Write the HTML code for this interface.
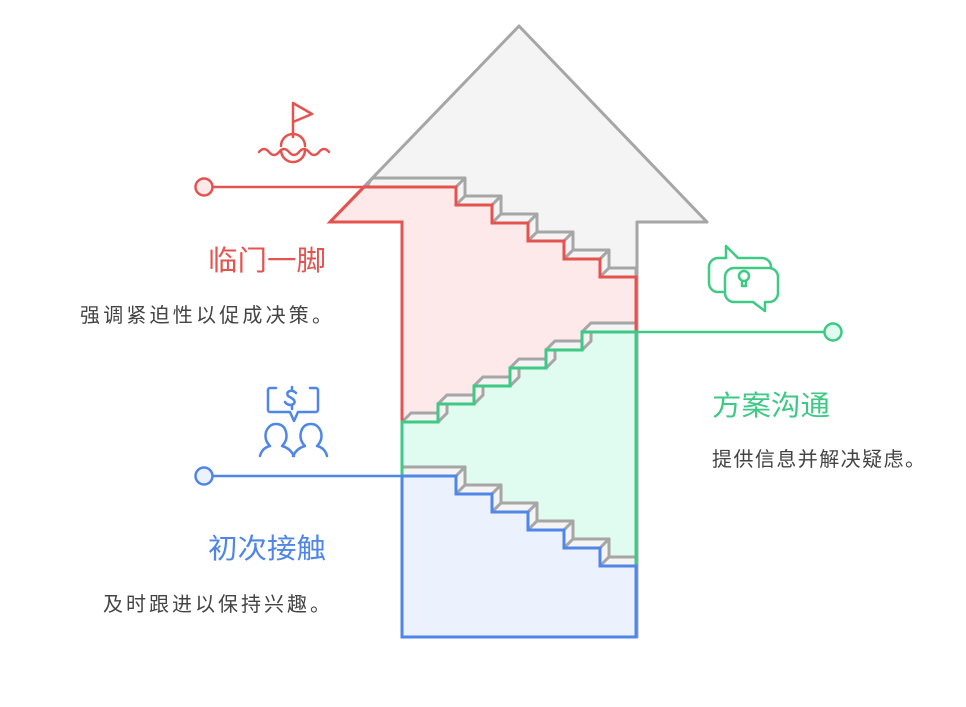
<!DOCTYPE html>
<html><head><meta charset="utf-8"><style>
body{margin:0;background:#fff;width:966px;height:702px;overflow:hidden}
svg text{font-family:"Liberation Sans","Noto Sans CJK SC",sans-serif}
</style></head><body>
<svg width="966" height="702" viewBox="0 0 966 702" xmlns="http://www.w3.org/2000/svg">
<polygon points="519,26 707,222 637,222 637,637 402,637 402,222 330,222" fill="#f4f4f4" stroke="#a6a6a6" stroke-width="3" stroke-linejoin="round"/>
<polygon points="330,222 364,187 456,187 456,205 492,205 492,223 528,223 528,241 564,241 564,259 600,259 600,277 636,277 636,332 582,332 582,350 546,350 546,368 510,368 510,386 474,386 474,404 438,404 438,422 402,422 402,222" fill="#fde9e9" stroke="#e5534f" stroke-width="3"/>
<polygon points="402,422 438,422 438,404 474,404 474,386 510,386 510,368 546,368 546,350 582,350 582,332 636,332 636,566 600,566 600,548 564,548 564,530 528,530 528,512 492,512 492,494 456,494 456,476 402,476" fill="#e0fbef" stroke="#3ec985" stroke-width="3"/>
<polygon points="402,476 456,476 456,494 492,494 492,512 528,512 528,530 564,530 564,548 600,548 600,566 636,566 636,637 402,637" fill="#ebf2fd" stroke="#4f86e8" stroke-width="3"/>
<g fill="#f4f4f4" stroke="#a6a6a6" stroke-width="3" stroke-linejoin="round">
<polygon points="370,181 373,178 465,178 456,187 367,187"/>
<polygon points="456,187 465,178 465,196 456,205"/>
<polygon points="456,205 465,196 501,196 492,205"/>
<polygon points="492,205 501,196 501,214 492,223"/>
<polygon points="492,223 501,214 537,214 528,223"/>
<polygon points="528,223 537,214 537,232 528,241"/>
<polygon points="528,241 537,232 573,232 564,241"/>
<polygon points="564,241 573,232 573,250 564,259"/>
<polygon points="564,259 573,250 609,250 600,259"/>
<polygon points="600,259 609,250 609,268 600,277"/>
<polygon points="600,277 609,268 636,268 636,277"/>
<polygon points="402,422 411,413 447,413 438,422"/>
<polygon points="438,422 447,413 447,395 438,404"/>
<polygon points="438,404 447,395 483,395 474,404"/>
<polygon points="474,404 483,395 483,377 474,386"/>
<polygon points="474,386 483,377 519,377 510,386"/>
<polygon points="510,386 519,377 519,359 510,368"/>
<polygon points="510,368 519,359 555,359 546,368"/>
<polygon points="546,368 555,359 555,341 546,350"/>
<polygon points="546,350 555,341 591,341 582,350"/>
<polygon points="582,350 591,341 591,323 582,332"/>
<polygon points="582,332 591,323 636,323 636,332"/>
<polygon points="402,476 402,467 465,467 456,476"/>
<polygon points="456,476 465,467 465,485 456,494"/>
<polygon points="456,494 465,485 501,485 492,494"/>
<polygon points="492,494 501,485 501,503 492,512"/>
<polygon points="492,512 501,503 537,503 528,512"/>
<polygon points="528,512 537,503 537,521 528,530"/>
<polygon points="528,530 537,521 573,521 564,530"/>
<polygon points="564,530 573,521 573,539 564,548"/>
<polygon points="564,548 573,539 609,539 600,548"/>
<polygon points="600,548 609,539 609,557 600,566"/>
<polygon points="600,566 609,557 636,557 636,566"/>
</g>
<polyline points="330,222 364,187 456,187 456,205 492,205 492,223 528,223 528,241 564,241 564,259 600,259 600,277 636,277 636,332" fill="none" stroke="#e5534f" stroke-width="3"/>
<polyline points="402,222 402,422" fill="none" stroke="#e5534f" stroke-width="3"/>
<polyline points="330,222 402,222" fill="none" stroke="#e5534f" stroke-width="3"/>
<polyline points="402,476 402,422 438,422 438,404 474,404 474,386 510,386 510,368 546,368 546,350 582,350 582,332 636,332 636,566" fill="none" stroke="#3ec985" stroke-width="3"/>
<polyline points="402,476 456,476 456,494 492,494 492,512 528,512 528,530 564,530 564,548 600,548 600,566 636,566 636,637 402,637 402,476" fill="none" stroke="#4f86e8" stroke-width="3"/>
<line x1="212" y1="187" x2="456" y2="187" stroke="#e5534f" stroke-width="2.5"/>
<circle cx="204" cy="187" r="8.5" fill="#fde9e9" stroke="#e5534f" stroke-width="2.5"/>
<line x1="636" y1="332" x2="825" y2="332" stroke="#3ec985" stroke-width="2.5"/>
<circle cx="833" cy="332" r="8.5" fill="#e0fbef" stroke="#3ec985" stroke-width="2.5"/>
<line x1="212" y1="476" x2="402" y2="476" stroke="#4f86e8" stroke-width="2.5"/>
<circle cx="204" cy="476" r="8.5" fill="#ebf2fd" stroke="#4f86e8" stroke-width="2.5"/>
<g fill="none" stroke="#e5534f" stroke-width="2.5" stroke-linecap="round" stroke-linejoin="round">
<polyline points="293,137 293,103 312,114 293,122"/>
<path d="M281,146 a12,12 0 0 1 24,0"/>
<path d="M281,150 a12,12 0 0 0 24,0"/>
<path d="M259,152 q5,-6 10,0 q5,6 10,0 q5,-6 10,0 q5,6 10,0 q5,-6 10,0 q5,6 10,0 q5,-6 10,0"/>
</g>
<g fill="none" stroke="#3ec985" stroke-width="2.5" stroke-linecap="round" stroke-linejoin="round">
<path d="M723,292 h-5 a9,9 0 0 1 -9,-9 v-16 a9,9 0 0 1 9,-9 h8 v-12 l12,12 h24 a9,9 0 0 1 9,9"/>
<path d="M734,268 h35 a9,9 0 0 1 9,9 v16 a9,9 0 0 1 -9,9 h-4 v9 l-12,-9 h-19 a9,9 0 0 1 -9,-9 v-16 a9,9 0 0 1 9,-9 z"/>
<circle cx="744" cy="276" r="5"/>
<path d="M742,282 v4 h4 v-4"/>
</g>
<g fill="none" stroke="#4f86e8" stroke-width="2.5" stroke-linecap="round" stroke-linejoin="round">
<path d="M276,388 h-6 a2,2 0 0 0 -2,2 v20 a2,2 0 0 0 2,2 h20 l4,9 l4,-9 h18 a2,2 0 0 0 2,-2 v-20 a2,2 0 0 0 -2,-2 h-6"/>
<path d="M296,393 q-3,-3 -6,-2 q-4,1 -2,5 q4,2 6,4 q2,4 -3,5 q-4,0 -6,-3 M292,387 v3 M292,406 v3"/>
<path d="M260,456 q2,-8 10,-10 q-6,-6 -4,-14 q3,-8 10,-8 q8,0 10,8 q2,8 -4,14 q8,2 12,10"/>
<path d="M327,456 q-2,-8 -10,-10 q6,-6 4,-14 q-3,-8 -10,-8 q-8,0 -10,8 q-2,8 4,14 q-8,2 -12,10"/>
</g>
<text x="208" y="270" font-size="28" fill="#e5534f" textLength="118" lengthAdjust="spacingAndGlyphs">临门一脚</text>
<text x="80" y="322" font-size="20" fill="#444" textLength="252" lengthAdjust="spacing">强调紧迫性以促成决策。</text>
<text x="712" y="415" font-size="28" fill="#3ec985" textLength="118" lengthAdjust="spacingAndGlyphs">方案沟通</text>
<text x="712" y="466" font-size="20" fill="#444" textLength="213" lengthAdjust="spacing">提供信息并解决疑虑。</text>
<text x="208" y="558" font-size="28" fill="#4f86e8" textLength="118" lengthAdjust="spacingAndGlyphs">初次接触</text>
<text x="103" y="611" font-size="20" fill="#444" textLength="227" lengthAdjust="spacing">及时跟进以保持兴趣。</text>
</svg>
</body></html>
